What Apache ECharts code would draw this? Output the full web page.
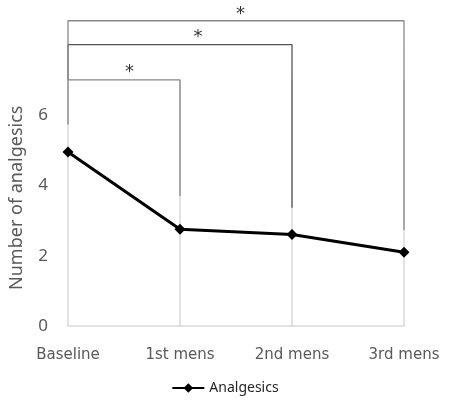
<!DOCTYPE html>
<html>
<head>
<meta charset="utf-8">
<script src="https://cdn.jsdelivr.net/npm/echarts@6/dist/echarts.min.js"></script>
<style>
  html, body { margin: 0; padding: 0; background: #fff; }
  #main { width: 450px; height: 406px; }
</style>
</head>
<body>
<div id="main"></div>
<script>
var categories = ['Baseline', '1st mens', '2nd mens', '3rd mens'];
var analgesics = [4.95, 2.75, 2.6, 2.1];
var yTicks = [0, 2, 4, 6];

// significance brackets: [x, y] points along each bracket
var bracket1 = [[0, 5.73], [0, 7.0], [1, 7.0], [1, 3.7]];
var bracket2 = [[0, 7.0], [0, 8.0], [2, 8.0], [2, 3.36]];
var bracket3 = [[0, 8.0], [0, 8.68], [3, 8.68], [3, 2.73]];
var stars = [[0.55, 7.33], [1.16, 8.33], [1.54, 8.98]];
var gridTop = 7;

function showChart () {
    var myChart = echarts.init(document.getElementById('main'));

    var lineData = analgesics.map(function (v, i) { return [i, v]; });
    var gridLines = categories.map(function (c, i) {
        return [{coord: [i, 0]}, {coord: [i, gridTop]}];
    });

    function bracket (data, color) {
        return {
            type: 'line',
            data: data,
            symbol: 'none',
            silent: true,
            z: 1,
            lineStyle: { color: color, width: 1.3 }
        };
    }

    var option = {
        backgroundColor: '#ffffff',
        animation: false,
        grid: { left: 68, right: 46, top: 9.5, bottom: 80, containLabel: false, outerBoundsMode: 'none' },
        legend: {
            bottom: 6,
            left: 'center',
            data: ['Analgesics'],
            itemWidth: 32,
            itemHeight: 12,
            textStyle: { color: '#262626', fontSize: 14, fontFamily: 'Noto Sans' }
        },
        xAxis: {
            type: 'value',
            min: 0,
            max: 3,
            interval: 1,
            axisLine: { show: true, lineStyle: { color: '#d9d9d9', width: 1.5 } },
            axisTick: { show: false },
            splitLine: { show: false },
            axisLabel: {
                margin: 22,
                color: '#595959',
                fontSize: 15,
                fontFamily: 'DejaVu Sans',
                formatter: function (v) { return categories[v]; }
            }
        },
        yAxis: {
            type: 'value',
            min: 0,
            max: 9,
            interval: 1,
            name: 'Number of analgesics',
            nameLocation: 'middle',
            nameGap: 42,
            nameTextStyle: { color: '#595959', fontSize: 18, fontFamily: 'Noto Sans', padding: [0, 60, 0, 0] },
            axisLine: { show: false },
            axisTick: { show: false },
            splitLine: { show: false },
            axisLabel: {
                margin: 20,
                color: '#595959',
                fontSize: 17,
                fontFamily: 'Noto Sans',
                formatter: function (v) { return yTicks.indexOf(v) >= 0 ? String(v) : ''; }
            }
        },
        series: [
            {
                name: 'Analgesics',
                type: 'line',
                data: lineData,
                symbol: 'diamond',
                symbolSize: 11,
                z: 5,
                itemStyle: { color: '#000000' },
                lineStyle: { color: '#000000', width: 3 },
                markLine: {
                    silent: true,
                    symbol: 'none',
                    z: 0,
                    label: { show: false },
                    lineStyle: { color: '#d9d9d9', width: 1.5, type: 'solid' },
                    data: gridLines
                }
            },
            bracket(bracket1, '#888888'),
            bracket(bracket2, '#555555'),
            bracket(bracket3, '#888888'),
            {
                type: 'scatter',
                data: stars,
                symbolSize: 0,
                silent: true,
                label: {
                    show: true,
                    position: 'inside',
                    formatter: '*',
                    color: '#000000',
                    fontSize: 18,
                    fontFamily: 'DejaVu Sans',
                    offset: [0, 4]
                }
            }
        ]
    };
    myChart.setOption(option);
}

showChart();
</script>
</body>
</html>
